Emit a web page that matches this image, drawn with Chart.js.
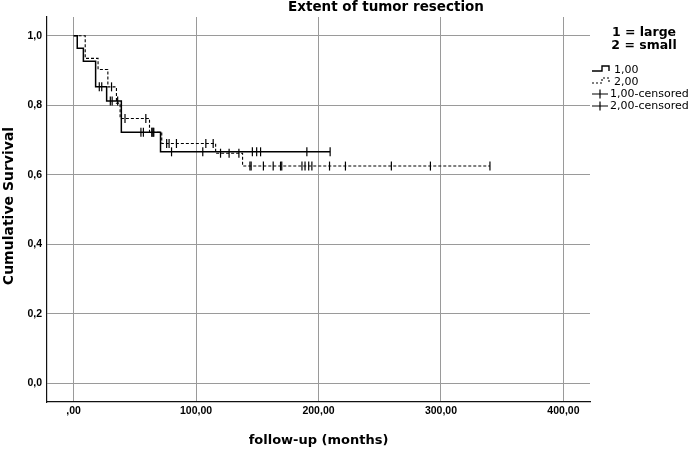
<!DOCTYPE html>
<html><head><meta charset="utf-8">
<script src="https://cdn.jsdelivr.net/npm/chart.js@4.4.1/dist/chart.umd.min.js"></script>
<style>html,body{margin:0;padding:0;background:#fff;} #wrap{width:699px;height:451px;position:relative;}</style>
</head><body><div id="wrap"><canvas id="c" width="699" height="451"></canvas></div>
<script>
// ---- data ----
const chartTitle = 'Extent of tumor resection';
const xAxisTitle = 'follow-up (months)';
const yAxisTitle = 'Cumulative Survival';
const legendHeader = ['1 = large', '2 = small'];
const seriesNames = ['1,00', '2,00', '1,00-censored', '2,00-censored'];

const xTicks = [0, 100, 200, 300, 400];
const xTickLabels = [',00', '100,00', '200,00', '300,00', '400,00'];
const yTicks = [0, 0.2, 0.4, 0.6, 0.8, 1.0];
const yTickLabels = ['0,0', '0,2', '0,4', '0,6', '0,8', '1,0'];

// group 1 (large) Kaplan-Meier steps
const g1Times = [0, 3, 8, 18, 27, 39, 71, 209.5];
const g1Surv  = [1.0, 0.964, 0.927, 0.853, 0.812, 0.722, 0.666, 0.666];
const g1CensorTimes = [21, 23, 30, 31.5, 36, 55, 57, 64, 65, 80, 105.5, 146, 149.5, 152.7, 190.5, 209.5];

// group 2 (small) Kaplan-Meier steps
const g2Times = [0, 9.5, 20, 28, 35, 38, 62, 72, 116, 138, 340];
const g2Surv  = [1.0, 0.935, 0.903, 0.853, 0.806, 0.762, 0.722, 0.69, 0.662, 0.625, 0.625];
const g2CensorTimes = [31, 42, 59, 64, 65.5, 76, 78, 84, 108, 114, 120, 127, 135, 144, 145, 155, 163, 169, 170, 186.5, 189, 192, 194.6, 209, 222, 259.5, 291.4, 340];

// ---- helpers ----
function survAt(times, surv, t) {
  let s = surv[0];
  for (let i = 0; i < times.length; i++) { if (times[i] <= t) s = surv[i]; }
  return s;
}
const toPts = (xs, ys) => xs.map((x, i) => ({x: x, y: ys[i]}));
const censorPts = (ct, times, surv) => ct.map(t => ({x: t, y: survAt(times, surv, t)}));

const TXT = '#000';
const textPlugin = {
  id: 'textPlugin',
  afterDraw(chart) {
    const ctx = chart.ctx;
    const ca = chart.chartArea;
    ctx.save();
    ctx.fillStyle = TXT;
    // title
    ctx.font = 'bold 13.5px "DejaVu Sans"';
    ctx.textAlign = 'center';
    ctx.textBaseline = 'middle';
    ctx.fillText(chartTitle, 386, 7);
    // x axis title
    ctx.font = 'bold 13px "DejaVu Sans"';
    ctx.fillText(xAxisTitle, (ca.left + ca.right) / 2, 441);
    // y axis title
    ctx.save();
    ctx.font = 'bold 14px "DejaVu Sans"';
    ctx.translate(9, 206);
    ctx.rotate(-Math.PI / 2);
    ctx.fillText(yAxisTitle, 0, 0);
    ctx.restore();
    // legend header
    ctx.font = 'bold 12.5px "DejaVu Sans"';
    ctx.fillText(legendHeader[0], 644, 33);
    ctx.fillText(legendHeader[1], 644, 46);
    // legend items
    ctx.font = '11px "DejaVu Sans"';
    ctx.textAlign = 'left';
    const rows = [70, 82, 94, 106];
    ctx.strokeStyle = '#000';
    // step symbols
    for (let k = 0; k < 2; k++) {
      const y = rows[k];
      ctx.beginPath();
      ctx.lineWidth = k === 0 ? 1.4 : 1.1;
      ctx.setLineDash(k === 0 ? [] : [2, 2]);
      ctx.moveTo(592, y + 1);
      ctx.lineTo(602, y + 1);
      ctx.lineTo(602, y - 4);
      ctx.lineTo(609, y - 4);
      ctx.lineTo(609, y + 1);
      ctx.stroke();
      ctx.setLineDash([]);
      ctx.fillText(seriesNames[k], 614, y);
    }
    // censor symbols
    for (let k = 2; k < 4; k++) {
      const y = rows[k];
      ctx.beginPath();
      ctx.lineWidth = 1.2;
      ctx.moveTo(592, y);
      ctx.lineTo(608, y);
      ctx.moveTo(600, y - 4.5);
      ctx.lineTo(600, y + 4.5);
      ctx.stroke();
      ctx.fillText(seriesNames[k], 610, y);
    }
    ctx.restore();
  }
};

new Chart(document.getElementById('c'), {
  type: 'scatter',
  data: {
    datasets: [
      { label: seriesNames[0], data: toPts(g1Times, g1Surv), showLine: true, stepped: true,
        borderColor: '#000', borderWidth: 1.5, pointRadius: 0, fill: false },
      { label: seriesNames[1], data: toPts(g2Times, g2Surv), showLine: true, stepped: true,
        borderColor: '#000', borderWidth: 1.1, borderDash: [3, 2], pointRadius: 0, fill: false },
      { label: seriesNames[2], data: censorPts(g1CensorTimes, g1Times, g1Surv), showLine: false,
        pointStyle: 'line', rotation: 90, pointRadius: 4.5, borderColor: '#000', borderWidth: 1.2 },
      { label: seriesNames[3], data: censorPts(g2CensorTimes, g2Times, g2Surv), showLine: false,
        pointStyle: 'line', rotation: 90, pointRadius: 4.5, borderColor: '#000', borderWidth: 1.2 }
    ]
  },
  options: {
    responsive: false,
    animation: false,
    devicePixelRatio: 1,
    layout: { padding: { top: 17, right: 109, left: 0, bottom: 0 } },
    plugins: { legend: { display: false }, title: { display: false }, tooltip: { enabled: false } },
    scales: {
      x: {
        type: 'linear', min: -21.7, max: 421.7,
        afterFit(s) { s.height = 49; },
        afterBuildTicks(s) { s.ticks = xTicks.map(v => ({value: v})); },
        grid: { color: '#9a9a9a', lineWidth: 1, drawTicks: false },
        border: { display: true, color: '#111', width: 1.2 },
        ticks: {
          padding: 3, color: '#000',
          font: { family: 'Liberation Sans', weight: 'bold', size: 10.5 },
          callback: (v) => { const i = xTicks.indexOf(v); return i >= 0 ? xTickLabels[i] : ''; }
        }
      },
      y: {
        type: 'linear', min: -0.054, max: 1.054,
        afterFit(s) { s.width = 47; },
        afterBuildTicks(s) { s.ticks = yTicks.map(v => ({value: v})); },
        grid: { color: '#9a9a9a', lineWidth: 1, drawTicks: false },
        border: { display: true, color: '#111', width: 1.2 },
        ticks: {
          padding: 5, color: '#000',
          font: { family: 'Liberation Sans', weight: 'bold', size: 10.5 },
          callback: (v) => { const i = yTicks.findIndex(t => Math.abs(t - v) < 1e-9); return i >= 0 ? yTickLabels[i] : ''; }
        }
      }
    }
  },
  plugins: [textPlugin]
});
</script>
</body></html>
